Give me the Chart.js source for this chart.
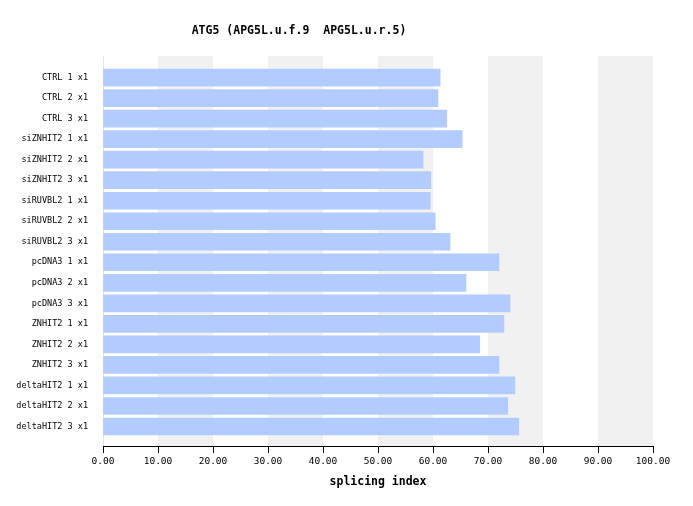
<!DOCTYPE html>
<html>
<head>
<meta charset="utf-8">
<script src="https://cdn.jsdelivr.net/npm/chart.js@4.4.1/dist/chart.umd.min.js"></script>
<style>
  html, body { margin: 0; padding: 0; background: #fff; }
  #wrap { width: 693px; height: 506px; }
</style>
</head>
<body>
<div id="wrap"><canvas id="chart" width="693" height="506"></canvas></div>
<script>
const TITLE = 'ATG5 (APG5L.u.f.9  APG5L.u.r.5)';
const X_TITLE = 'splicing index';

const samples = [
    'CTRL 1 x1', 'CTRL 2 x1', 'CTRL 3 x1',
    'siZNHIT2 1 x1', 'siZNHIT2 2 x1', 'siZNHIT2 3 x1',
    'siRUVBL2 1 x1', 'siRUVBL2 2 x1', 'siRUVBL2 3 x1',
    'pcDNA3 1 x1', 'pcDNA3 2 x1', 'pcDNA3 3 x1',
    'ZNHIT2 1 x1', 'ZNHIT2 2 x1', 'ZNHIT2 3 x1',
    'deltaHIT2 1 x1', 'deltaHIT2 2 x1', 'deltaHIT2 3 x1'
];

const splicingIndex = [
    61.3, 60.9, 62.5,
    65.3, 58.2, 59.6,
    59.5, 60.4, 63.1,
    72.0, 66.0, 74.0,
    72.9, 68.5, 72.0,
    74.9, 73.6, 75.6
];

const xTicks = [0, 10, 20, 30, 40, 50, 60, 70, 80, 90, 100];

const MONO = '"DejaVu Sans Mono", "Liberation Mono", monospace';

// shaded columns between every other pair of ticks
const bandsPlugin = {
    id: 'bands',
    beforeDatasetsDraw(chart) {
        const { ctx, chartArea, scales } = chart;
        ctx.save();
        ctx.fillStyle = '#f1f1f1';
        for (let i = 1; i < xTicks.length - 1; i += 2) {
            const x0 = scales.x.getPixelForValue(xTicks[i]);
            const x1 = scales.x.getPixelForValue(xTicks[i + 1]);
            ctx.fillRect(x0, chartArea.top, x1 - x0, chartArea.bottom - chartArea.top);
        }
        ctx.restore();
    }
};

const titlePlugin = {
    id: 'topTitle',
    afterDraw(chart) {
        const ctx = chart.ctx;
        ctx.save();
        ctx.font = 'bold 11.5px ' + MONO;
        ctx.fillStyle = '#000';
        ctx.textAlign = 'center';
        ctx.textBaseline = 'middle';
        ctx.fillText(TITLE, 299, 31);
        ctx.restore();
    }
};

new Chart(document.getElementById('chart'), {
    type: 'bar',
    data: {
        datasets: [{
            data: splicingIndex.map((v, i) => ({ x: v, y: i })),
            backgroundColor: '#b3ccff',
            borderWidth: 0,
            barThickness: 17
        }]
    },
    options: {
        indexAxis: 'y',
        responsive: false,
        animation: false,
        layout: { padding: { top: 56, right: 40, left: 0, bottom: 0 } },
        plugins: {
            legend: { display: false },
            tooltip: { enabled: false },
            title: { display: false }
        },
        scales: {
            y: {
                type: 'linear',
                reverse: true,
                offset: false,
                min: -1.05,
                max: 17.95,
                afterBuildTicks: (scale) => {
                    scale.ticks = samples.map((_, i) => ({ value: i }));
                },
                afterFit: (scale) => { scale.width = 103; },
                grid: { display: false, drawTicks: false },
                border: { display: true, color: '#e4e4e4' },
                ticks: {
                    padding: 15,
                    autoSkip: false,
                    color: '#000',
                    font: { family: MONO, size: 8.5 },
                    callback: (v) => samples[v] || ''
                }
            },
            x: {
                type: 'linear',
                min: 0,
                max: 100,
                afterBuildTicks: (scale) => {
                    scale.ticks = xTicks.map(v => ({ value: v }));
                },
                afterFit: (scale) => { scale.height = 60; },
                grid: {
                    drawOnChartArea: false,
                    drawTicks: true,
                    tickLength: 7,
                    color: '#000'
                },
                border: { display: true, color: '#000', width: 1 },
                ticks: {
                    padding: 3,
                    color: '#000',
                    maxRotation: 0,
                    font: { family: MONO, size: 9.5 },
                    callback: (v) => Number(v).toFixed(2)
                },
                title: {
                    display: true,
                    text: X_TITLE,
                    color: '#000',
                    font: { family: MONO, size: 11.5, weight: 'bold' },
                    padding: { top: 0, bottom: 17 }
                }
            }
        }
    },
    plugins: [bandsPlugin, titlePlugin]
});
</script>
</body>
</html>
